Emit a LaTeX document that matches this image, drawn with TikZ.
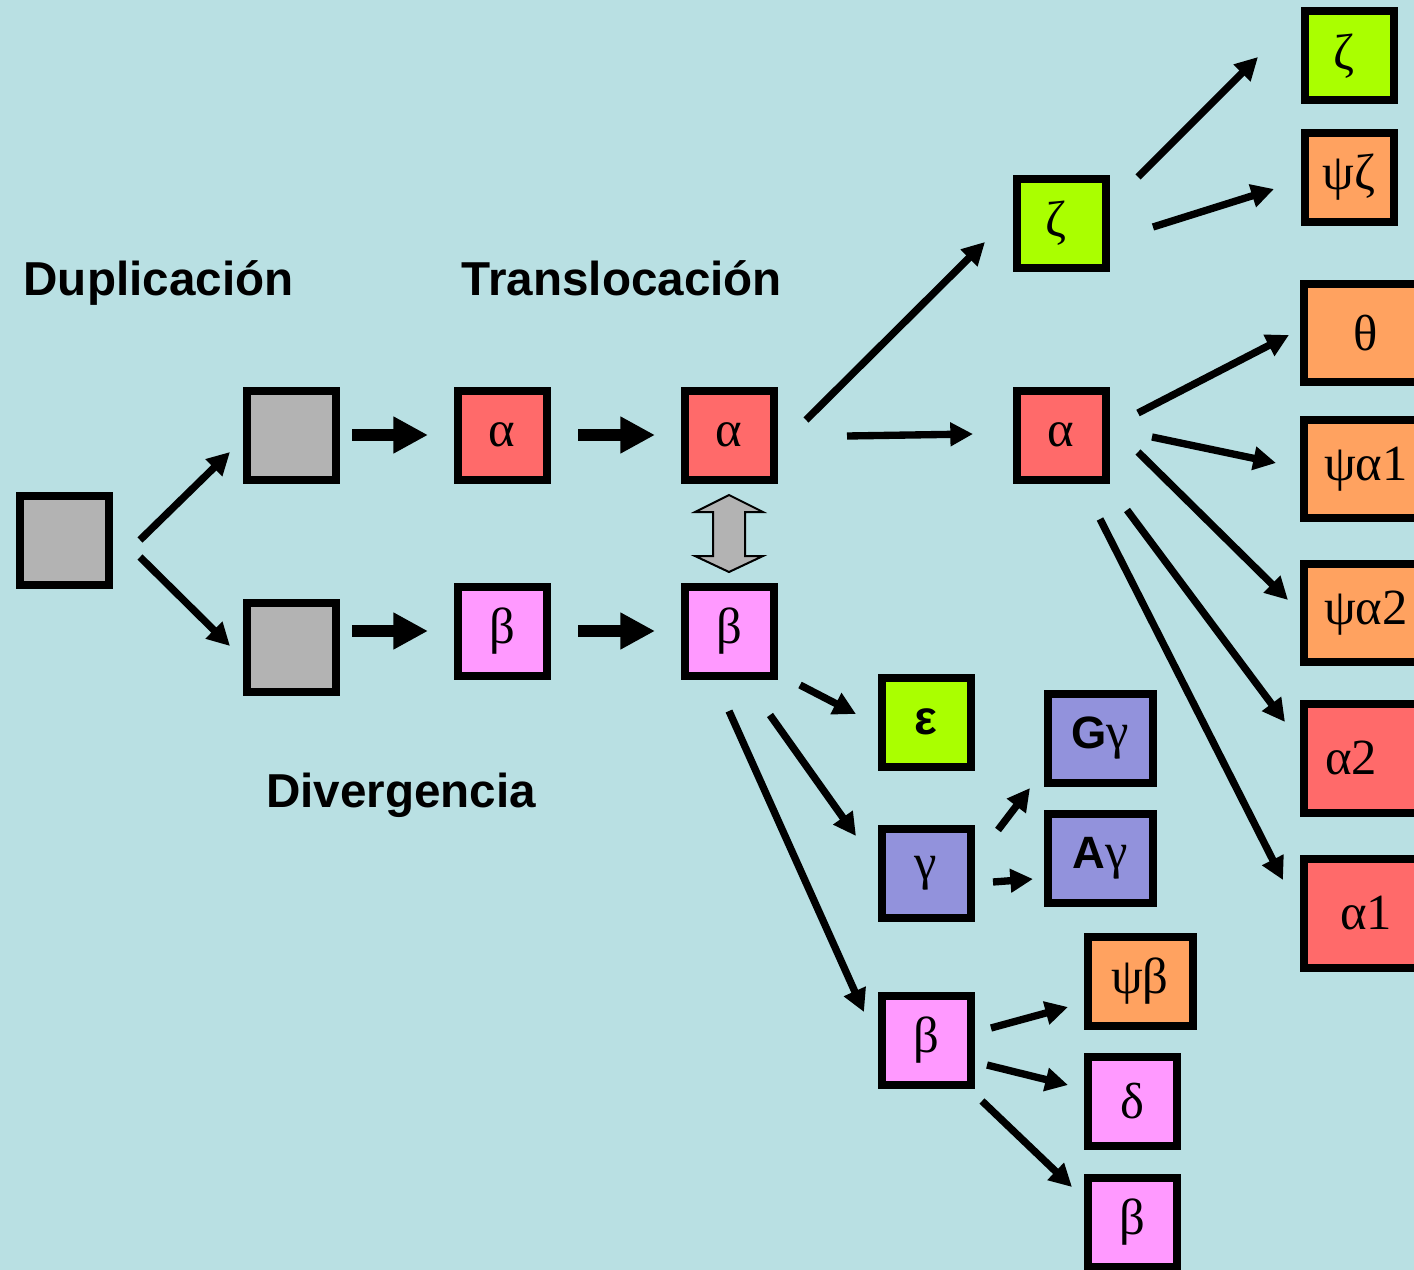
\documentclass[tikz,border=0pt]{standalone}
\usepackage{fontspec}
\setmainfont{Liberation Serif}
\setsansfont{Liberation Sans}
\usetikzlibrary{arrows.meta,calc}

\definecolor{bgblue}{RGB}{185,224,227}
\definecolor{cGray}{RGB}{179,179,179}
\definecolor{cRed}{RGB}{255,106,106}
\definecolor{cPink}{RGB}{255,153,255}
\definecolor{cLime}{RGB}{170,255,0}
\definecolor{cOrange}{RGB}{255,162,96}
\definecolor{cViolet}{RGB}{146,146,220}

\tikzset{
  gene/.style={draw=black, line width=6pt, minimum width=66.75pt, minimum height=66.75pt, inner sep=0pt, font=\fontsize{38}{38}\selectfont},
  widegene/.style={gene, minimum width=78.75pt},
  tallgene/.style={gene, minimum width=93pt, minimum height=73.5pt},
  biggene/.style={gene, minimum width=93pt, minimum height=81.75pt},
  arr/.style={-{Triangle[length=17pt,width=17pt]}, line width=5.5pt},
  fatarr/.style={-{Triangle[length=26pt,width=26pt]}, line width=9pt},
  stage/.style={font=\sffamily\bfseries\fontsize{35.7}{36}\selectfont, inner sep=0pt, anchor=base},
}

\begin{document}
\begin{tikzpicture}[x=0.75pt,y=0.75pt,yscale=-1,xscale=1]
		\useasboundingbox (0,0) rectangle (1414,1270);
		%Background
		\fill [bgblue] (0,0) rectangle (1414,1270);
		
		% Text Node
		\node [stage] (dup) at (158.5,295) {Duplicación};
		% Text Node
		\node [stage] (trans) at (622,295) {Translocación};
		% Text Node
		\node [stage] (div) at (401,807) {Divergencia};
		
		%Shape: Square [root and duplicates]
		\node [gene, fill=cGray] (root) at (64,540) {};
		\node [gene, fill=cGray] (grayU) at (291,435) {};
		\node [gene, fill=cGray] (grayL) at (291,647) {};
		%Shape: Square [translocation]
		\node [gene, fill=cRed] (alphaA) at (502,435) {α};
		\node [gene, fill=cPink] (betaA) at (502,631) {β};
		\node [gene, fill=cRed] (alphaB) at (729,435) {α};
		\node [gene, fill=cPink] (betaB) at (729,631) {β};
		%Shape: Square [alpha cluster]
		\node [gene, fill=cLime] (zetaA) at (1061,223) {ζ\hspace*{8pt}};
		\node [gene, fill=cRed] (alphaC) at (1061,435) {α};
		\node [gene, fill=cLime] (zetaB) at (1349,56) {ζ\hspace*{8pt}};
		\node [gene, fill=cOrange] (psizeta) at (1349,177) {ψζ};
		\node [tallgene, fill=cOrange] (theta) at (1366,333) {θ};
		\node [tallgene, fill=cOrange] (psialphaA) at (1366,469) {ψα1};
		\node [tallgene, fill=cOrange] (psialphaB) at (1366,613) {ψα2};
		\node [biggene, fill=cRed] (alphaTwo) at (1366,758) {α2\hspace*{22pt}};
		\node [biggene, fill=cRed] (alphaOne) at (1366,913) {α1};
		%Shape: Square [beta cluster]
		\node [gene, fill=cLime, font=\sffamily\bfseries\fontsize{36}{36}\selectfont] (epsilon) at (926,722) {ε};
		\node [gene, fill=cViolet] (gamma) at (926,873) {γ};
		\node [widegene, fill=cViolet] (Ggamma) at (1100,738) {{\sffamily\bfseries\fontsize{34}{34}\selectfont G}γ};
		\node [widegene, fill=cViolet] (Agamma) at (1100,858) {{\sffamily\bfseries\fontsize{34}{34}\selectfont A}γ};
		\node [gene, fill=cPink] (betaC) at (926,1040) {β};
		\node [widegene, fill=cOrange] (psibeta) at (1140,981) {ψβ};
		\node [gene, fill=cPink] (delta) at (1132,1101) {δ};
		\node [gene, fill=cPink] (betaD) at (1132,1222) {β};
		
		%Arrows: duplication
		\draw [arr] ($(root)+(76,0)$) -- ($(grayU)+(-61,17)$);
		\draw [arr] ($(root)+(76,17)$) -- ($(grayL)+(-61,-1)$);
		%Right Arrow [block]
		\draw [fatarr] ($(grayU)+(61,0)$) -- ($(alphaA)+(-74,0)$);
		\draw [fatarr] ($(alphaA)+(76,0)$) -- ($(alphaB)+(-74,0)$);
		\draw [fatarr] ($(grayL)+(61,-16)$) -- ($(betaA)+(-74,0)$);
		\draw [fatarr] ($(betaA)+(76,0)$) -- ($(betaB)+(-74,0)$);
		%Up Down Arrow
		\draw [fill=cGray, line width=1.5pt] (729,495) -- (763,512) -- (745,512) -- (745,556) -- (763,556) -- (729,572) -- (695,556) -- (713,556) -- (713,512) -- (695,512) -- cycle ;
		
		%Arrows: alpha cluster
		\draw [arr] ($(alphaB)+(77,-15)$) -- ($(zetaA)+(-76,19)$);
		\draw [arr] ($(alphaB)+(118,1)$) -- ($(alphaC)+(-88,-1)$);
		\draw [arr] ($(zetaA)+(77,-46)$) -- ($(zetaB)+(-91,1)$);
		\draw [arr] ($(zetaA)+(92,4)$) -- ($(psizeta)+(-75,12)$);
		\draw [arr] ($(alphaC)+(77,-22)$) -- ($(theta)+(-77,2)$);
		\draw [arr] ($(alphaC)+(91,2)$) -- ($(psialphaA)+(-90,-6)$);
		\draw [arr] ($(alphaC)+(77,17)$) -- ($(psialphaB)+(-78,-13)$);
		\draw [arr] ($(alphaC)+(66,75)$) -- ($(alphaTwo)+(-81,-36)$);
		\draw [arr] ($(alphaC)+(39,84)$) -- ($(alphaOne)+(-83,-33)$);
		
		%Arrows: beta cluster
		\draw [arr] ($(betaB)+(71,54)$) -- ($(epsilon)+(-70,-8)$);
		\draw [arr] ($(betaB)+(41,84)$) -- ($(gamma)+(-70,-37)$);
		\draw [arr] ($(betaB)+(0,80)$) -- ($(betaC)+(-62,-28)$);
		\draw [arr] ($(gamma)+(72,-43)$) -- ($(Ggamma)+(-70,50)$);
		\draw [arr] ($(gamma)+(67,9)$) -- ($(Agamma)+(-67,21)$);
		\draw [arr] ($(betaC)+(65,-12)$) -- ($(psibeta)+(-72,26)$);
		\draw [arr] ($(betaC)+(61,25)$) -- ($(delta)+(-64,-16)$);
		\draw [arr] ($(betaC)+(56,61)$) -- ($(betaD)+(-60,-35)$);
	\end{tikzpicture}
\end{document}
